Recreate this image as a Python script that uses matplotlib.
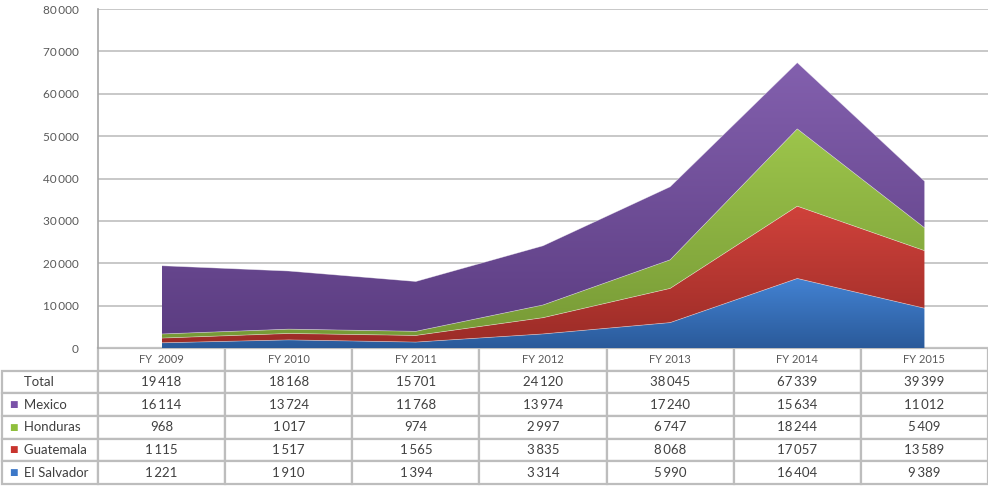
import numpy as np
import matplotlib
matplotlib.use("Agg")
import matplotlib.pyplot as plt
from matplotlib.colors import LinearSegmentedColormap

plt.rcParams['font.family'] = ['Lato', 'DejaVu Sans']

# data
years = ["FY  2009", "FY 2010", "FY 2011", "FY 2012", "FY 2013", "FY 2014", "FY 2015"]
el_salvador = [1221, 1910, 1394, 3314, 5990, 16404, 9389]
guatemala = [1115, 1517, 1565, 3835, 8068, 17057, 13589]
honduras = [968, 1017, 974, 2997, 6747, 18244, 5409]
mexico = [16114, 13724, 11768, 13974, 17240, 15634, 11012]
total = [19418, 18168, 15701, 24120, 38045, 67339, 39399]

series = [
    ("El Salvador", el_salvador, "#4382d2", "#2a5a9a"),
    ("Guatemala", guatemala, "#d0423b", "#9c2c27"),
    ("Honduras", honduras, "#9dc54b", "#779a36"),
    ("Mexico", mexico, "#8360ae", "#5c3d82"),
]


def fmt(v):
    return f"{v:,}".replace(",", "\u2009")


fig = plt.figure(figsize=(9.88, 4.86), dpi=100)
ax = fig.add_axes([98 / 988, 138 / 486, 890 / 988, 339 / 486])

# stacked areas with a vertical gradient in each band
x = np.arange(len(years))
base = np.zeros(len(years))
for name, vals, c_top, c_bot in series:
    top = base + np.array(vals)
    poly = ax.fill_between(x, base, top, color="none", lw=0)
    cmap = LinearSegmentedColormap.from_list(name, [c_bot, c_top])
    grad = np.linspace(0, 1, 256).reshape(-1, 1)
    im = ax.imshow(grad, extent=[x[0], x[-1], base.min(), top.max()], origin="lower",
                   aspect="auto", cmap=cmap, zorder=2, interpolation="bilinear")
    im.set_clip_path(poly.get_paths()[0], transform=ax.transData)
    ax.plot(x, top, color="white", lw=0.5, alpha=0.5, zorder=3)
    base = top

ax.set_xlim(-0.5, 6.5)
ax.set_ylim(0, 80000)
ax.set_yticks(np.arange(0, 80001, 10000))
ax.set_yticklabels([fmt(v) for v in range(0, 80001, 10000)], fontsize=8.5, color="#595959")
ax.set_xticks([])
ax.grid(axis="y", color="#c4c4c4", lw=1.3, zorder=0)
ax.set_axisbelow(True)
for s in ["top", "right", "bottom"]:
    ax.spines[s].set_visible(False)
ax.spines["left"].set_color("#a6a6a6")
ax.spines["left"].set_linewidth(1.2)
ax.tick_params(axis="y", length=0, pad=14)

# data table under the chart
row_names = ["Total", "Mexico", "Honduras", "Guatemala", "El Salvador"]
row_vals = [total, mexico, honduras, guatemala, el_salvador]
marker_cols = [None, "#7a52a8", "#8fbf3c", "#c8342e", "#3c78c8"]

cell_text = [[""] + years] + [[n] + [fmt(v) for v in vals] for n, vals in zip(row_names, row_vals)]
label_w = 96 / 890
col_w = 1 / 7
tbl = ax.table(cellText=cell_text, cellLoc="center",
               colWidths=[label_w] + [col_w] * 7,
               bbox=[-label_w, -136 / 339, 1 + label_w, 136 / 339])
tbl.auto_set_font_size(False)
for (r, c), cell in tbl.get_celld().items():
    cell.set_edgecolor("#bdbdbd")
    cell.set_linewidth(1.6)
    txt = cell.get_text()
    if r == 0:
        txt.set_fontsize(8)
        txt.set_color("#595959")
        if c == 0:
            cell.set_visible(False)
    else:
        txt.set_fontsize(9.5)
        txt.set_color("#404040")
    if c == 0 and r > 0:
        txt.set_ha("left")
        txt.set_text("     " + txt.get_text())
        cell.PAD = 0.05

# legend squares in the label column
for i, col in enumerate(marker_cols):
    if col is None:
        continue
    yc = -(22 + 22.8 * (i + 0.5)) / 339
    ax.text(-label_w + 7 / 890, yc, "\u25a0", color=col, fontsize=6.5, ha="left", va="center",
            transform=ax.transAxes, clip_on=False, family="DejaVu Sans")

fig.savefig("out.png", dpi=100)
